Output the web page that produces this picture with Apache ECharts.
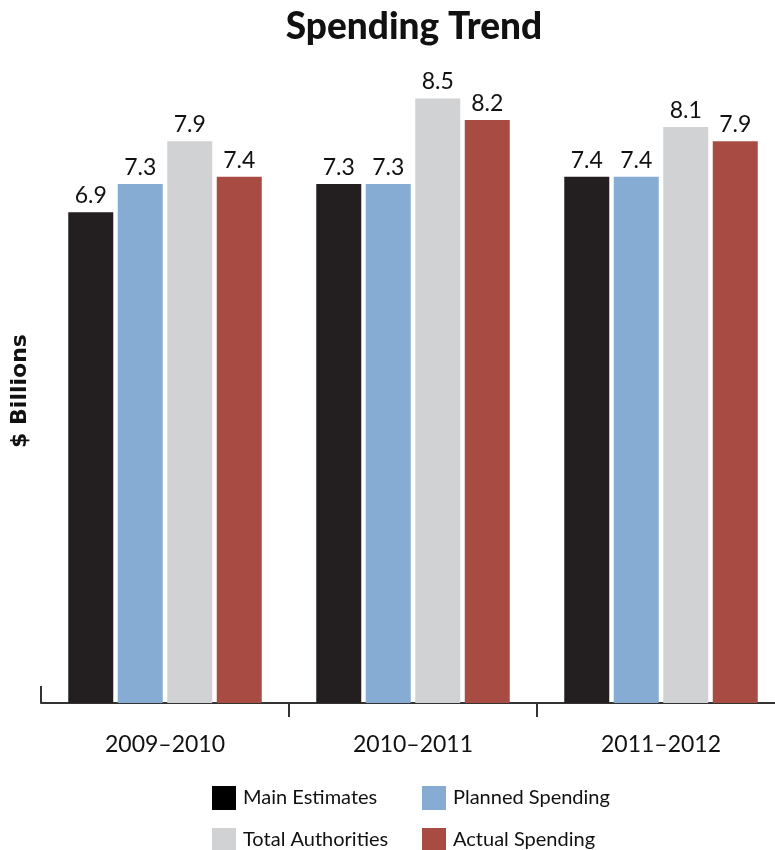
<!DOCTYPE html>
<html>
<head>
<meta charset="utf-8">
<script src="https://cdn.jsdelivr.net/npm/echarts@6/dist/echarts.min.js"></script>
<style>
  html, body { margin: 0; padding: 0; background: #ffffff; }
  #chart { width: 775px; height: 850px; }
</style>
</head>
<body>
<div id="chart"></div>
<script>
// Fiscal years on the category axis
const years = ['2009–2010', '2010–2011', '2011–2012'];

// Spending by type, $ billions
const mainEstimates = [6.9, 7.3, 7.4];
const plannedSpending = [7.3, 7.3, 7.4];
const totalAuthorities = [7.9, 8.5, 8.1];
const actualSpending = [7.4, 8.2, 7.9];

const seriesNames = ['Main Estimates', 'Planned Spending', 'Total Authorities', 'Actual Spending'];
const seriesColors = ['#231f20', '#87acd3', '#d1d2d4', '#a84b43'];
const seriesValues = [mainEstimates, plannedSpending, totalAuthorities, actualSpending];

const FONT = 'Lato, "Open Sans", sans-serif';

const chart = echarts.init(document.getElementById('chart'));

const series = seriesNames.map((name, i) => ({
  name: name,
  type: 'bar',
  data: seriesValues[i],
  barWidth: 45,
  barGap: '10%',
  itemStyle: { color: seriesColors[i] },
  label: {
    show: true,
    position: 'top',
    distance: 5,
    color: '#111111',
    fontFamily: FONT,
    fontSize: 23,
    formatter: p => p.value.toFixed(1)
  }
}));

const legendBase = {
  orient: 'vertical',
  top: 786,
  height: 100,
  padding: 0,
  itemWidth: 24,
  itemHeight: 24,
  itemGap: 18,
  icon: 'rect',
  textStyle: { fontFamily: FONT, fontSize: 20, color: '#111111', padding: [0, 0, 0, 2] }
};

chart.setOption({
  animation: false,
  backgroundColor: '#ffffff',
  title: {
    text: 'Spending Trend',
    left: 409,
    textAlign: 'center',
    top: 4,
    textStyle: { fontFamily: FONT, fontWeight: 900, fontSize: 37, color: '#111111' }
  },
  // the plot area runs past the right edge of the canvas
  grid: { left: 41, width: 744, top: 63, height: 640, containLabel: false, outerBoundsMode: 'none' },
  xAxis: [
    {
      type: 'category',
      data: years,
      position: 'bottom',
      axisLine: { lineStyle: { color: '#333333', width: 2 } },
      axisTick: {
        show: true,
        length: 14,
        lineStyle: { color: '#333333', width: 2 },
        interval: (idx) => idx > 0
      },
      axisLabel: { color: '#111111', fontFamily: FONT, fontSize: 23, margin: 30 }
    },
    {
      type: 'category',
      data: years,
      position: 'bottom',
      axisLine: { show: false },
      axisTick: {
        show: true,
        inside: true,
        length: 17,
        lineStyle: { color: '#333333', width: 2 },
        interval: (idx) => idx === 0
      },
      axisLabel: { show: false }
    }
  ],
  yAxis: {
    type: 'value',
    min: 0,
    max: 9,
    name: '$ Billions',
    nameLocation: 'middle',
    nameGap: 10,
    nameRotate: 90,
    nameTextStyle: {
      fontFamily: '"DejaVu Sans", sans-serif',
      fontWeight: 'bold',
      fontSize: 22,
      color: '#111111',
      padding: [0, 16, 0, 0]
    },
    axisLine: { show: false },
    axisTick: { show: false },
    axisLabel: { show: false },
    splitLine: { show: false }
  },
  legend: [
    Object.assign({}, legendBase, {
      left: 212,
      data: [
        { name: 'Main Estimates', itemStyle: { color: '#000000' } },
        { name: 'Total Authorities' }
      ]
    }),
    Object.assign({}, legendBase, {
      left: 422,
      data: ['Planned Spending', 'Actual Spending']
    })
  ],
  series: series
});
</script>
</body>
</html>
